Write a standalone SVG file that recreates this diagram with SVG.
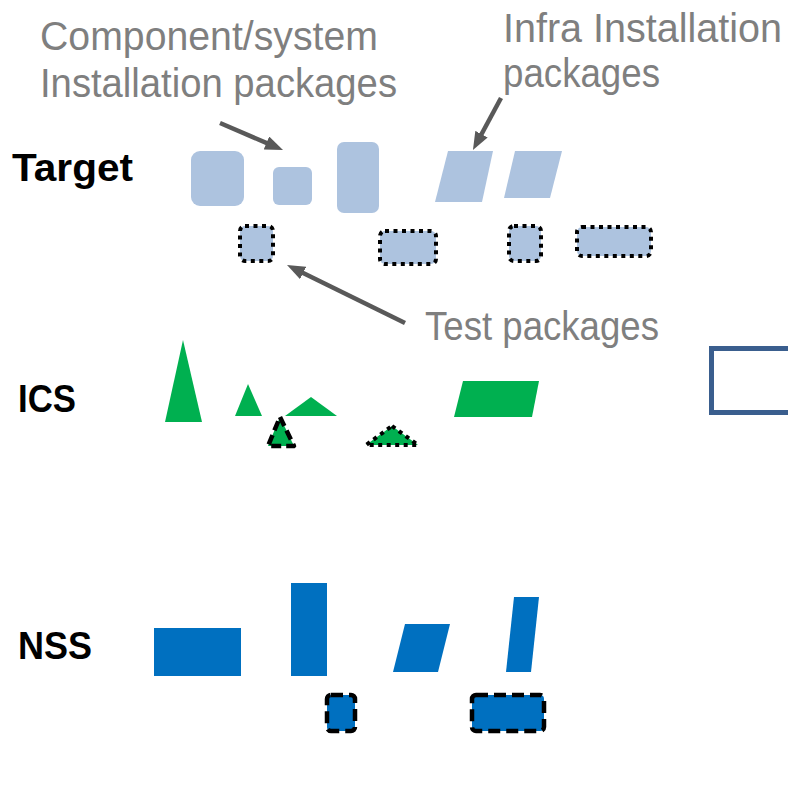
<svg xmlns="http://www.w3.org/2000/svg" width="788" height="789" viewBox="0 0 788 789">
<style>
.lbl{font-family:"Liberation Sans",Arial,sans-serif;font-size:40px;fill:#7f7f7f}
.row{font-family:"Liberation Sans",Arial,sans-serif;font-size:38px;font-weight:bold;fill:#000}
.tgt{fill:#adc3df}
.ics{fill:#00b050}
.nss{fill:#0070c0}
.dot{stroke:#000;stroke-width:4;stroke-dasharray:4 4.5}
.dash{stroke:#000;stroke-width:4.5;stroke-dasharray:12 6}
.arr{stroke:#595959;stroke-width:4.5;fill:none;marker-end:url(#ah)}
</style>
<defs>
<marker id="ah" viewBox="0 0 18 14" refX="8" refY="7" markerWidth="18" markerHeight="14" markerUnits="userSpaceOnUse" orient="auto">
<path d="M0,0 L18,7 L0,14 z" fill="#595959"/>
</marker>
</defs>
<rect width="788" height="789" fill="#fff"/>

<g id="labels">
<text class="lbl" x="40" y="50" textLength="338" lengthAdjust="spacingAndGlyphs">Component/system</text>
<text class="lbl" x="40" y="97" textLength="357" lengthAdjust="spacingAndGlyphs">Installation packages</text>
<text class="lbl" x="503" y="42" textLength="279" lengthAdjust="spacingAndGlyphs">Infra Installation</text>
<text class="lbl" x="503" y="87" textLength="157" lengthAdjust="spacingAndGlyphs">packages</text>
<text class="lbl" x="425" y="340" textLength="234" lengthAdjust="spacingAndGlyphs">Test packages</text>
</g>

<g id="row-labels">
<text class="row" x="12" y="181" textLength="121" lengthAdjust="spacingAndGlyphs">Target</text>
<text class="row" x="18" y="412" textLength="58" lengthAdjust="spacingAndGlyphs">ICS</text>
<text class="row" x="18" y="659" textLength="74" lengthAdjust="spacingAndGlyphs">NSS</text>
</g>

<g id="target">
<rect id="t1" class="tgt" x="191" y="151" width="53" height="55" rx="9"/>
<rect id="t2" class="tgt" x="273" y="167" width="39" height="38" rx="6"/>
<rect id="t3" class="tgt" x="337" y="142" width="42" height="71" rx="7"/>
<polygon id="t4" class="tgt" points="448,151 493,151 482,202 435,202"/>
<polygon id="t5" class="tgt" points="515,151 562,151 550,198 504,198"/>
<rect id="tt1" class="tgt dot" x="240" y="226" width="33" height="35" rx="5"/>
<rect id="tt2" class="tgt dot" x="380" y="231" width="56" height="33" rx="5"/>
<rect id="tt3" class="tgt dot" x="509" y="226" width="32" height="35" rx="5"/>
<rect id="tt4" class="tgt dot" x="577" y="227" width="74" height="29" rx="5"/>
</g>

<g id="ics">
<polygon id="i1" class="ics" points="183,340 202,422 165,422"/>
<polygon id="i2" class="ics" points="248,384 262,416 235,416"/>
<polygon id="i3" class="ics" points="311,397 337,416 285,416"/>
<polygon id="i4" class="ics" points="463,381 539,381 532,417 454,417"/>
<polygon id="it1" class="ics" points="280,417 294,446 268,446" stroke="#000" stroke-width="4.5" stroke-dasharray="10 5" stroke-linejoin="round"/>
<polygon id="it2" class="ics dot" points="392,426 418,445 366,445" stroke-linejoin="round"/>
</g>

<g id="outline-box">
<rect x="711.5" y="348.5" width="100" height="64" fill="none" stroke="#3a5e8e" stroke-width="5"/>
</g>

<g id="nss">
<rect id="n1" class="nss" x="154" y="628" width="87" height="48"/>
<rect id="n2" class="nss" x="291" y="583" width="36" height="93"/>
<polygon id="n3" class="nss" points="405,624 450,624 438,672 393,672"/>
<polygon id="n4" class="nss" points="514,597 539,597 531,672 506,672"/>
<rect id="nt1" class="nss dash" x="327" y="695" width="28" height="36" rx="4"/>
<rect id="nt2" class="nss dash" x="472" y="695" width="72" height="36" rx="4"/>
</g>

<g id="connectors">
<line class="arr" x1="220" y1="123" x2="273.8" y2="146.1"/>
<line class="arr" x1="501" y1="98" x2="477.7" y2="141.2"/>
<line class="arr" x1="405" y1="323" x2="296" y2="269.4"/>
</g>
</svg>
